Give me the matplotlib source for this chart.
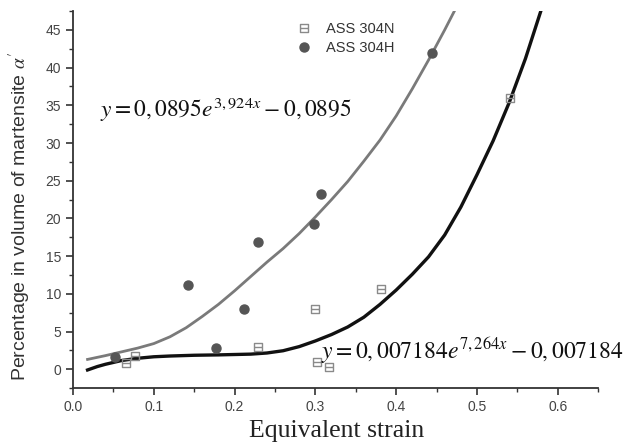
import numpy as np
import matplotlib
matplotlib.use("Agg")
import matplotlib.pyplot as plt
from matplotlib.path import Path
from matplotlib.ticker import MultipleLocator

plt.rcParams['font.family'] = ['Liberation Sans', 'DejaVu Sans']
plt.rcParams['mathtext.fontset'] = 'stix'

# measured points
x_304n = [0.066, 0.077, 0.229, 0.299, 0.302, 0.317, 0.381, 0.541]
y_304n = [0.8, 1.7, 3.0, 8.0, 0.9, 0.35, 10.7, 36.0]
x_304h = [0.052, 0.142, 0.177, 0.212, 0.229, 0.298, 0.307, 0.444]
y_304h = [1.6, 11.2, 2.8, 8.0, 16.9, 19.3, 23.2, 41.9]

# fitted curves
x_fit_h = [0.018, 0.04, 0.06, 0.08, 0.10, 0.12, 0.14, 0.16, 0.18, 0.20, 0.22, 0.24,
           0.26, 0.28, 0.30, 0.32, 0.34, 0.36, 0.38, 0.40, 0.42, 0.44, 0.46, 0.472]
y_fit_h = [1.3, 1.8, 2.3, 2.8, 3.4, 4.3, 5.5, 7.0, 8.6, 10.4, 12.3, 14.2,
           16.0, 18.0, 20.2, 22.5, 24.9, 27.6, 30.4, 33.6, 37.2, 41.0, 45.0, 47.5]
x_fit_n = [0.018, 0.03, 0.04, 0.05, 0.06, 0.08, 0.10, 0.12, 0.15, 0.18, 0.20, 0.22,
           0.24, 0.26, 0.28, 0.30, 0.32, 0.34, 0.36, 0.38, 0.40, 0.42, 0.44, 0.46,
           0.48, 0.50, 0.52, 0.54, 0.56, 0.579]
y_fit_n = [-0.1, 0.35, 0.65, 0.9, 1.15, 1.45, 1.65, 1.75, 1.85, 1.9, 1.95, 2.0,
           2.15, 2.45, 3.0, 3.75, 4.6, 5.6, 6.9, 8.6, 10.5, 12.6, 14.9, 17.8,
           21.5, 25.8, 30.3, 35.4, 41.2, 47.5]

eq_h = r"$y=0,0895e^{3,924x}-0,0895$"
eq_n = r"$y=0,007184e^{7,264x}-0,007184$"

# square with a bar through the middle
sq_bar = Path([(-1, -1), (1, -1), (1, 1), (-1, 1), (-1, -1), (-1, 0), (1, 0)],
              [Path.MOVETO, Path.LINETO, Path.LINETO, Path.LINETO, Path.CLOSEPOLY,
               Path.MOVETO, Path.LINETO])

fig = plt.figure(figsize=(6.35, 4.44), dpi=100)
ax = fig.add_axes([0.115, 0.126, 0.827, 0.849])

ax.plot(x_fit_h, y_fit_h, color='#7a7a7a', lw=2.0, zorder=2)
ax.plot(x_fit_n, y_fit_n, color='#111111', lw=2.4, zorder=2)

ax.plot(x_304n, y_304n, ls='none', marker=sq_bar, ms=5.2, mfc='none', mec='#8a8a8a',
        mew=1.0, label='ASS 304N', zorder=3)
ax.plot(x_304h, y_304h, ls='none', marker='o', ms=6.5, color='#555555',
        label='ASS 304H', zorder=3)

ax.set_xlim(0, 0.65)
ax.set_ylim(-2.5, 47.5)
ax.set_xticks(np.arange(0, 0.61, 0.1))
ax.set_yticks(np.arange(0, 46, 5))
ax.xaxis.set_minor_locator(MultipleLocator(0.05))
ax.yaxis.set_minor_locator(MultipleLocator(2.5))
ax.tick_params(which='major', direction='out', length=5, width=1.2, colors='#333333',
               labelsize=10, labelcolor='#444444')
ax.tick_params(which='minor', direction='out', length=3, width=1.0, colors='#333333')

for side in ['top', 'right']:
    ax.spines[side].set_visible(False)
for side in ['left', 'bottom']:
    ax.spines[side].set_linewidth(1.3)
    ax.spines[side].set_color('#333333')

fig.text(0.53, 0.016, 'Equivalent strain', family='Liberation Serif', fontsize=18.5,
         color='#222222', ha='center', va='baseline')
ax.set_ylabel(r"Percentage in volume of martensite $\alpha'$", fontsize=14,
              color='#333333')
ax.yaxis.set_label_coords(-0.076, 0.455)

ax.text(0.033, 33.5, eq_h, fontsize=16.8, color='#111111', va='baseline')
ax.text(0.307, 1.4, eq_n, fontsize=17.0, color='#111111', va='baseline')

ax.legend(loc='upper left', bbox_to_anchor=(0.405, 1.0), frameon=False, fontsize=10.5,
          handlelength=1.0, handletextpad=1.0, labelspacing=0.35, borderpad=0.25,
          labelcolor='#333333')

fig.savefig('out.png', dpi=100)
